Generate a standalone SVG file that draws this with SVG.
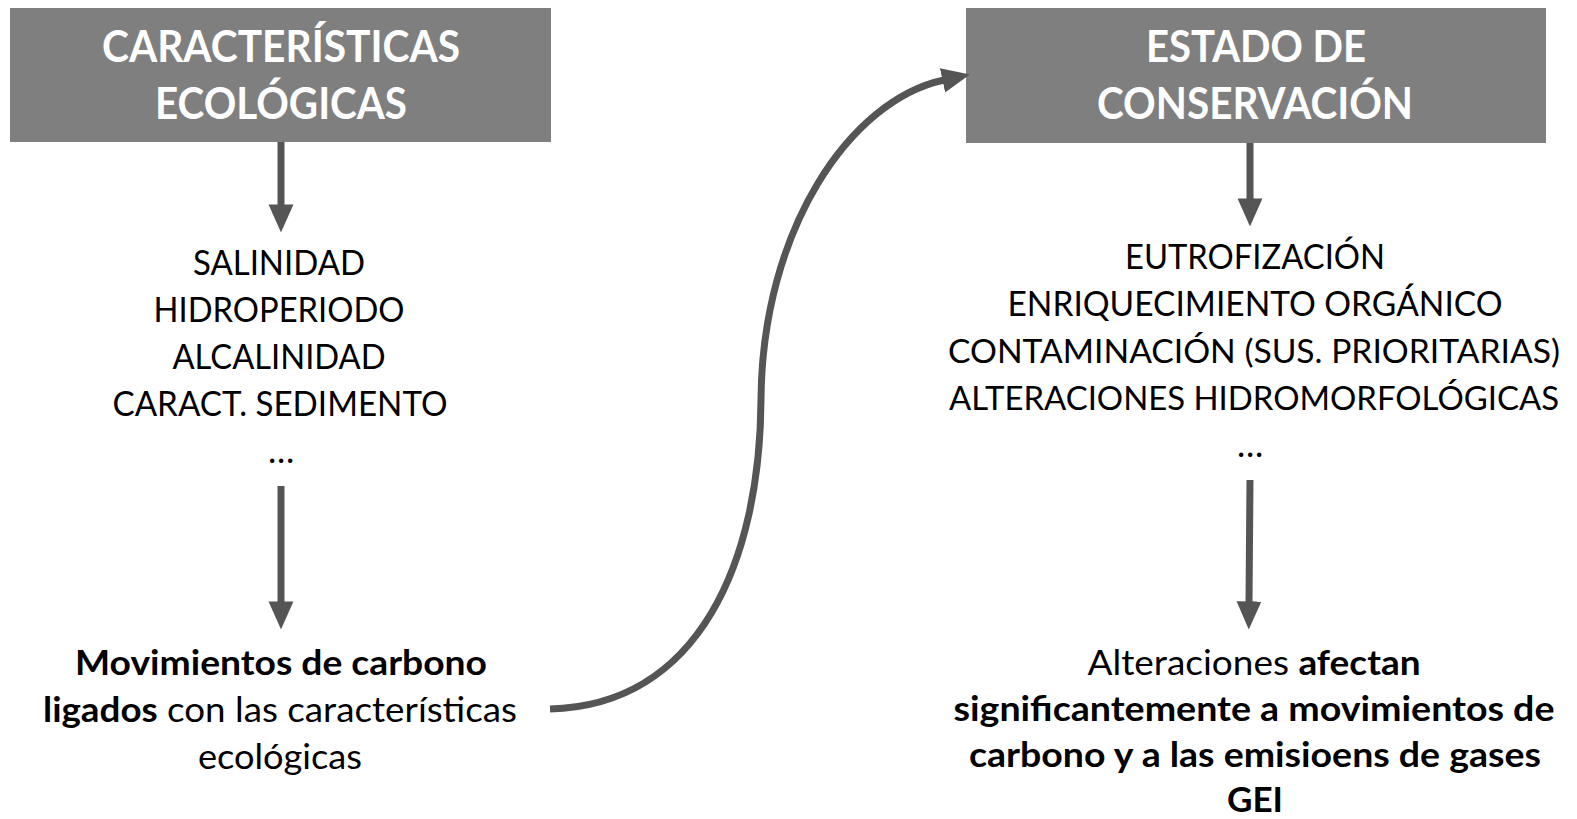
<svg xmlns="http://www.w3.org/2000/svg" width="1577" height="819" viewBox="0 0 1577 819">
<style>
.box{fill:#7f7f7f}
.title{font-family:Lato,"Open Sans","Liberation Sans",sans-serif;font-weight:bold;font-size:43px;fill:#ffffff;text-anchor:middle}
.txt{font-family:Lato,"Open Sans","Liberation Sans",sans-serif;font-size:35px;fill:#000000;text-anchor:middle}
.long{font-size:33px}
.b{font-weight:bold}
.conn{stroke:#555555;stroke-width:7;fill:none}
</style>
<defs>
<marker id="ah" markerWidth="4" markerHeight="4" refX="0.2" refY="1.6" orient="auto" markerUnits="strokeWidth" viewBox="0 0 3.6 3.2">
<path d="M0,0 L3.6,1.6 L0,3.2 Z" fill="#555555"/>
</marker>
</defs>
<rect width="1577" height="819" fill="#ffffff"/>
<g id="node-caracteristicas">
<rect class="box" x="10" y="8" width="541" height="134"/>
<text class="title" x="281" y="62" textLength="358" lengthAdjust="spacingAndGlyphs">CARACTERÍSTICAS</text>
<text class="title" x="281" y="119" textLength="252" lengthAdjust="spacingAndGlyphs">ECOLÓGICAS</text>
</g>
<g id="node-estado">
<rect class="box" x="966" y="8" width="580" height="135"/>
<text class="title" x="1256" y="62" textLength="220" lengthAdjust="spacingAndGlyphs">ESTADO DE</text>
<text class="title" x="1255" y="119" textLength="316" lengthAdjust="spacingAndGlyphs">CONSERVACIÓN</text>
</g>
<g id="node-lista-ecologica">
<text class="txt" x="279" y="275" textLength="172" lengthAdjust="spacingAndGlyphs">SALINIDAD</text>
<text class="txt" x="279" y="322" textLength="251" lengthAdjust="spacingAndGlyphs">HIDROPERIODO</text>
<text class="txt" x="279" y="369" textLength="213" lengthAdjust="spacingAndGlyphs">ALCALINIDAD</text>
<text class="txt" x="280" y="416" textLength="335" lengthAdjust="spacingAndGlyphs">CARACT. SEDIMENTO</text>
<text class="txt" x="281" y="463">…</text>
</g>
<g id="node-movimientos">
<text class="txt b" x="281" y="675" textLength="412" lengthAdjust="spacingAndGlyphs">Movimientos de carbono</text>
<text class="txt" x="280" y="722" textLength="474" lengthAdjust="spacingAndGlyphs"><tspan class="b">ligados</tspan> con las características</text>
<text class="txt" x="280" y="769" textLength="164" lengthAdjust="spacingAndGlyphs">ecológicas</text>
</g>
<g id="node-lista-estado">
<text class="txt" x="1255" y="269" textLength="260" lengthAdjust="spacingAndGlyphs">EUTROFIZACIÓN</text>
<text class="txt" x="1255" y="316" textLength="495" lengthAdjust="spacingAndGlyphs">ENRIQUECIMIENTO ORGÁNICO</text>
<text class="txt long" x="1254" y="363" textLength="612" lengthAdjust="spacingAndGlyphs">CONTAMINACIÓN (SUS. PRIORITARIAS)</text>
<text class="txt long" x="1254" y="410" textLength="610" lengthAdjust="spacingAndGlyphs">ALTERACIONES HIDROMORFOLÓGICAS</text>
<text class="txt" x="1250" y="457">…</text>
</g>
<g id="node-alteraciones">
<text class="txt" x="1254" y="675" textLength="333" lengthAdjust="spacingAndGlyphs">Alteraciones <tspan class="b">afectan</tspan></text>
<text class="txt b" x="1254" y="721" textLength="601" lengthAdjust="spacingAndGlyphs">significantemente a movimientos de</text>
<text class="txt b" x="1255" y="767" textLength="572" lengthAdjust="spacingAndGlyphs">carbono y a las emisioens de gases</text>
<text class="txt b" x="1255" y="812" textLength="56" lengthAdjust="spacingAndGlyphs">GEI</text>
</g>
<g id="connectors">
<path class="conn" d="M281,142 L281,206" marker-end="url(#ah)"/>
<path class="conn" d="M281,486 L281,603" marker-end="url(#ah)"/>
<path class="conn" d="M1250,143 L1250,200" marker-end="url(#ah)"/>
<path class="conn" d="M1250,480 L1249,603" marker-end="url(#ah)"/>
<path class="conn" d="M550,709 C700,705 760,560 761,400 C762,230 850,100 944,80" marker-end="url(#ah)"/>
</g>
</svg>
